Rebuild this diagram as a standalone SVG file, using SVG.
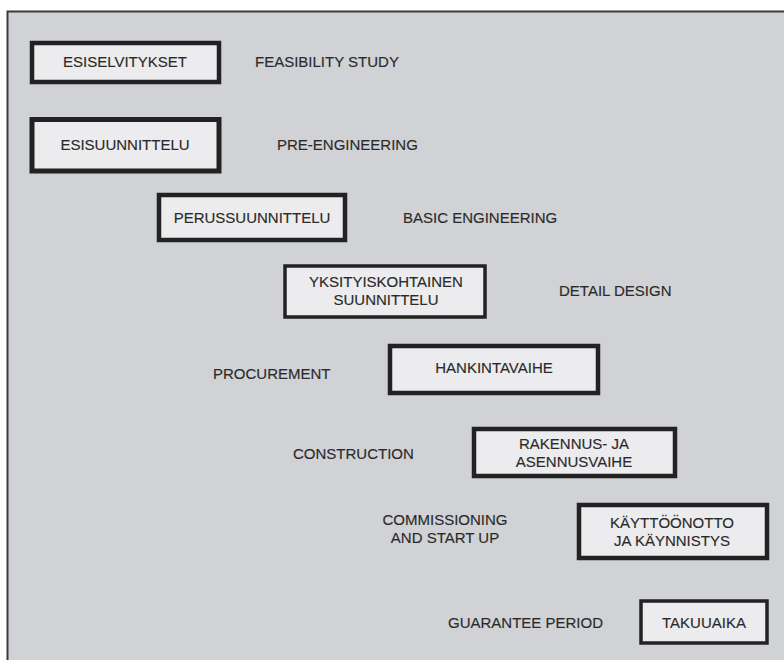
<svg xmlns="http://www.w3.org/2000/svg" width="784" height="660" viewBox="0 0 784 660">
  <style>
    .page { fill: #d1d2d5; stroke: #3a3a3a; stroke-width: 2; }
    .box { fill: #ececee; stroke: #222222; stroke-width: 4.5; }
    .lbl { font-family: "Liberation Sans", Arial, sans-serif; font-size: 15px; fill: #2a2a2a; stroke: #2a2a2a; stroke-width: 0.15; }
    .mid { text-anchor: middle; }
  </style>

  <!-- white margin and grey sheet -->
  <rect x="0" y="0" width="784" height="660" fill="#ffffff"/>
  <rect class="page" x="7.5" y="11.5" width="790" height="660"/>

  <!-- project phases, Finnish box + English name -->
  <g id="esiselvitykset">
    <rect class="box" x="32" y="43" width="187" height="39"/>
    <text class="lbl mid" x="125" y="67">ESISELVITYKSET</text>
    <text class="lbl" x="255" y="67">FEASIBILITY STUDY</text>
  </g>

  <g id="esisuunnittelu">
    <rect class="box" x="32" y="119.5" width="187" height="51.5" style="stroke-width:5"/>
    <text class="lbl mid" x="125" y="150">ESISUUNNITTELU</text>
    <text class="lbl" x="277" y="150">PRE-ENGINEERING</text>
  </g>

  <g id="perussuunnittelu">
    <rect class="box" x="159" y="195" width="186" height="45"/>
    <text class="lbl mid" x="252" y="223">PERUSSUUNNITTELU</text>
    <text class="lbl" x="403" y="223">BASIC ENGINEERING</text>
  </g>

  <g id="yksityiskohtainen">
    <rect class="box" x="285" y="266" width="200" height="51" style="stroke-width:3.5"/>
    <text class="lbl mid" x="386" y="287">YKSITYISKOHTAINEN</text>
    <text class="lbl mid" x="386" y="305">SUUNNITTELU</text>
    <text class="lbl" x="559" y="296">DETAIL DESIGN</text>
  </g>

  <g id="hankintavaihe">
    <rect class="box" x="390" y="346" width="208" height="47"/>
    <text class="lbl mid" x="494" y="373">HANKINTAVAIHE</text>
    <text class="lbl" x="213" y="379">PROCUREMENT</text>
  </g>

  <g id="rakennusvaihe">
    <rect class="box" x="474" y="429" width="201" height="47"/>
    <text class="lbl mid" x="574" y="449">RAKENNUS- JA</text>
    <text class="lbl mid" x="574" y="467">ASENNUSVAIHE</text>
    <text class="lbl" x="293" y="459">CONSTRUCTION</text>
  </g>

  <g id="kayttoonotto">
    <rect class="box" x="579" y="505" width="188" height="53"/>
    <text class="lbl mid" x="672" y="528">KÄYTTÖÖNOTTO</text>
    <text class="lbl mid" x="672" y="546">JA KÄYNNISTYS</text>
    <text class="lbl mid" x="445" y="525">COMMISSIONING</text>
    <text class="lbl mid" x="445" y="543">AND START UP</text>
  </g>

  <g id="takuuaika">
    <rect class="box" x="641" y="601" width="126" height="42" style="stroke-width:3.5"/>
    <text class="lbl mid" x="704" y="628">TAKUUAIKA</text>
    <text class="lbl" x="448" y="628">GUARANTEE PERIOD</text>
  </g>
</svg>
